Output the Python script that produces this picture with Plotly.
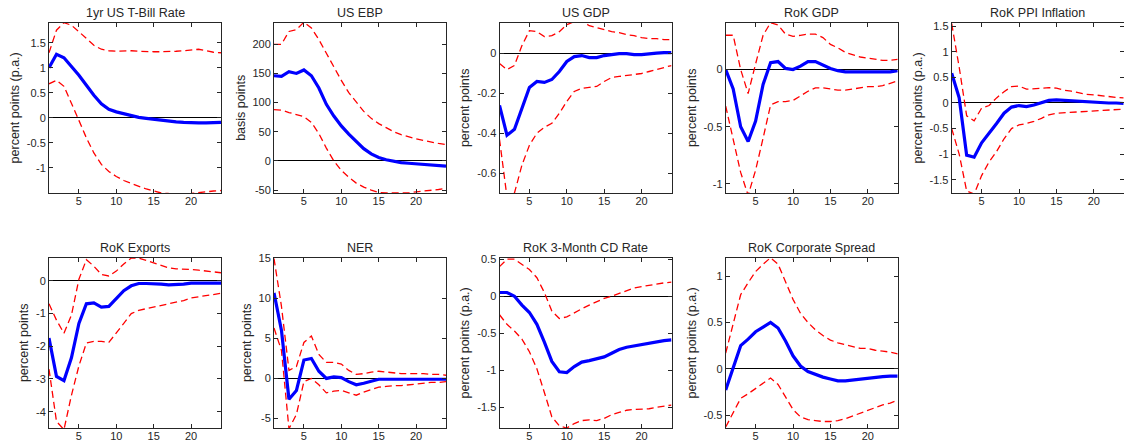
import plotly.graph_objects as go

horizon = list(range(1, 25))

titles = ["1yr US T-Bill Rate", "US EBP", "US GDP", "RoK GDP", "RoK PPI Inflation",
          "RoK Exports", "NER", "RoK 3-Month CD Rate", "RoK Corporate Spread"]
ylabels = ["percent points (p.a.)", "basis points", "percent points", "percent points",
           "percent points (p.a.)", "percent points", "percent points",
           "percent points (p.a.)", "percent points (p.a.)"]

tbill_med = [1.0, 1.27, 1.2, 1.03, 0.85, 0.65, 0.45, 0.28, 0.17, 0.12, 0.08, 0.04, 0.01, -0.01,
             -0.03, -0.05, -0.07, -0.08, -0.09, -0.1, -0.1, -0.1, -0.1, -0.09]
tbill_up = [1.3, 1.75, 1.9, 1.85, 1.72, 1.58, 1.45, 1.37, 1.34, 1.33, 1.34, 1.34, 1.33, 1.32,
            1.32, 1.32, 1.32, 1.33, 1.34, 1.36, 1.37, 1.34, 1.31, 1.3]
tbill_lo = [0.68, 0.75, 0.63, 0.3, -0.05, -0.4, -0.7, -0.93, -1.07, -1.17, -1.25, -1.31, -1.37,
            -1.42, -1.46, -1.5, -1.51, -1.52, -1.52, -1.51, -1.49, -1.47, -1.46, -1.45]

ebp_med = [146, 145, 153, 150, 156, 146, 125, 97, 77, 60, 46, 33, 21, 12, 6, 2, -1, -3, -4, -5,
           -6, -7, -8, -9]
ebp_up = [200, 200, 222, 225, 238, 228, 208, 185, 160, 138, 117, 100, 85, 73, 64, 57, 50, 45,
          41, 38, 35, 32, 30, 28]
ebp_lo = [88, 87, 83, 80, 76, 66, 47, 22, 0, -16, -28, -38, -45, -50, -54, -55, -55, -55, -55,
          -53, -52, -51, -49, -47]

usgdp_med = [-0.26, -0.41, -0.38, -0.27, -0.17, -0.14, -0.145, -0.13, -0.09, -0.04, -0.015,
             -0.01, -0.02, -0.02, -0.01, -0.005, 0.0, 0.0, -0.005, -0.005, 0.0, 0.002, 0.005, 0.005]
usgdp_up = [-0.05, -0.08, -0.06, 0.04, 0.115, 0.11, 0.085, 0.09, 0.11, 0.145, 0.16, 0.165, 0.14,
            0.13, 0.12, 0.11, 0.105, 0.095, 0.09, 0.08, 0.075, 0.075, 0.07, 0.07]
usgdp_lo = [-0.43, -0.72, -0.7, -0.56, -0.46, -0.4, -0.37, -0.35, -0.3, -0.24, -0.19, -0.175,
            -0.17, -0.165, -0.14, -0.12, -0.115, -0.11, -0.105, -0.1, -0.09, -0.08, -0.07, -0.06]

rokgdp_med = [0.0, -0.17, -0.5, -0.63, -0.45, -0.13, 0.06, 0.07, 0.01, 0.0, 0.03, 0.07, 0.07,
              0.04, 0.01, -0.01, -0.02, -0.02, -0.02, -0.02, -0.025, -0.02, -0.02, -0.01]
rokgdp_up = [0.3, 0.3, 0.0, -0.21, 0.05, 0.3, 0.41, 0.39, 0.31, 0.29, 0.3, 0.31, 0.31, 0.28,
             0.22, 0.19, 0.15, 0.13, 0.11, 0.1, 0.09, 0.08, 0.08, 0.09]
rokgdp_lo = [-0.32, -0.6, -0.9, -1.1, -0.88, -0.6, -0.31, -0.28, -0.28, -0.27, -0.23, -0.19,
             -0.16, -0.16, -0.17, -0.18, -0.18, -0.17, -0.16, -0.15, -0.15, -0.14, -0.12, -0.1]

ppi_med = [0.58, 0.1, -1.02, -1.06, -0.78, -0.6, -0.4, -0.2, -0.08, -0.05, -0.07, -0.04, 0.0,
           0.05, 0.06, 0.05, 0.04, 0.03, 0.02, 0.02, 0.01, 0.0, 0.0, -0.01]
ppi_up = [1.55, 0.7, -0.25, -0.35, -0.1, -0.05, 0.1, 0.22, 0.32, 0.33, 0.27, 0.28, 0.29, 0.3,
          0.29, 0.25, 0.23, 0.2, 0.17, 0.16, 0.14, 0.12, 0.11, 0.1]
ppi_lo = [-0.5, -1.0, -1.72, -1.78, -1.42, -1.15, -0.95, -0.7, -0.5, -0.43, -0.4, -0.36, -0.3,
          -0.23, -0.2, -0.19, -0.18, -0.17, -0.16, -0.15, -0.14, -0.13, -0.12, -0.12]

exp_med = [-1.75, -2.92, -3.05, -2.35, -1.3, -0.7, -0.67, -0.8, -0.78, -0.55, -0.3, -0.15,
           -0.08, -0.08, -0.08, -0.1, -0.12, -0.12, -0.1, -0.07, -0.06, -0.07, -0.07, -0.07]
exp_up = [-0.7, -1.2, -1.6, -1.05, 0.05, 0.65, 0.45, 0.2, 0.15, 0.3, 0.52, 0.7, 0.7, 0.62, 0.55,
          0.47, 0.4, 0.37, 0.37, 0.35, 0.33, 0.3, 0.27, 0.25]
exp_lo = [-2.7, -4.3, -4.55, -3.5, -2.6, -1.9, -1.85, -1.85, -1.88, -1.6, -1.3, -1.0, -0.9,
          -0.85, -0.8, -0.75, -0.7, -0.65, -0.6, -0.52, -0.48, -0.45, -0.42, -0.38]

ner_med = [10.7, 6.0, -2.6, -1.5, 2.3, 2.5, 0.9, 0.0, 0.2, 0.1, -0.4, -0.8, -0.6, -0.3, -0.1,
           -0.1, -0.1, -0.1, -0.1, -0.05, -0.05, -0.05, -0.05, -0.1]
ner_up = [15.0, 9.0, 1.0, 1.5, 4.5, 5.3, 3.0, 2.0, 2.0, 1.8, 1.0, 0.5, 0.6, 0.8, 0.9, 0.8, 0.7,
          0.6, 0.6, 0.6, 0.6, 0.5, 0.5, 0.4]
ner_lo = [6.3, 3.5, -6.3, -4.5, -0.4, 0.0, -0.8, -1.8, -1.6, -1.5, -1.8, -2.1, -1.7, -1.4, -1.1,
          -1.0, -0.9, -0.9, -0.8, -0.7, -0.6, -0.5, -0.5, -0.4]

cd_med = [0.05, 0.05, 0.0, -0.12, -0.22, -0.38, -0.62, -0.88, -1.02, -1.03, -0.95, -0.89, -0.87,
          -0.85, -0.82, -0.77, -0.72, -0.69, -0.67, -0.65, -0.63, -0.62, -0.6, -0.59]
cd_up = [0.4, 0.5, 0.5, 0.43, 0.36, 0.25, 0.05, -0.2, -0.3, -0.28, -0.22, -0.17, -0.12, -0.07,
         -0.03, 0.0, 0.04, 0.08, 0.11, 0.13, 0.15, 0.17, 0.18, 0.19]
cd_lo = [-0.25, -0.38, -0.47, -0.58, -0.75, -0.98, -1.3, -1.63, -1.75, -1.78, -1.72, -1.68,
         -1.67, -1.68, -1.65, -1.6, -1.57, -1.54, -1.53, -1.53, -1.52, -1.5, -1.49, -1.47]

cs_med = [-0.23, 0.0, 0.25, 0.32, 0.4, 0.45, 0.5, 0.44, 0.3, 0.14, 0.03, -0.03, -0.06, -0.09,
          -0.11, -0.13, -0.13, -0.12, -0.11, -0.1, -0.09, -0.085, -0.08, -0.08]
cs_up = [0.17, 0.5, 0.8, 0.93, 1.05, 1.13, 1.2, 1.13, 0.93, 0.75, 0.6, 0.5, 0.42, 0.36, 0.31,
         0.28, 0.26, 0.24, 0.22, 0.22, 0.2, 0.19, 0.18, 0.16]
cs_lo = [-0.63, -0.48, -0.32, -0.27, -0.21, -0.15, -0.1, -0.17, -0.3, -0.44, -0.52, -0.55,
         -0.56, -0.57, -0.57, -0.56, -0.54, -0.51, -0.48, -0.45, -0.42, -0.39, -0.37, -0.34]

medians = [tbill_med, ebp_med, usgdp_med, rokgdp_med, ppi_med, exp_med, ner_med, cd_med, cs_med]
uppers = [tbill_up, ebp_up, usgdp_up, rokgdp_up, ppi_up, exp_up, ner_up, cd_up, cs_up]
lowers = [tbill_lo, ebp_lo, usgdp_lo, rokgdp_lo, ppi_lo, exp_lo, ner_lo, cd_lo, cs_lo]

yranges = [[-1.5, 1.9], [-55, 237], [-0.70, 0.155], [-1.08, 0.41], [-1.76, 1.57],
           [-4.5, 0.71], [-6.2, 15.1], [-1.78, 0.52], [-0.64, 1.2]]
yticks = [[-1, -0.5, 0, 0.5, 1, 1.5], [-50, 0, 50, 100, 150, 200], [-0.6, -0.4, -0.2, 0],
          [-1, -0.5, 0], [-1.5, -1, -0.5, 0, 0.5, 1, 1.5], [-4, -3, -2, -1, 0],
          [-5, 0, 5, 10, 15], [-1.5, -1, -0.5, 0, 0.5], [-0.5, 0, 0.5, 1]]
xticks = [5, 10, 15, 20]

W, H = 1124, 442
col_left = [49, 274, 499.5, 725.7, 951.7]
panel_w = 172
row_top = [22.7, 257.7]
panel_h = 170.3

TXT = "#262626"
FONT = "Liberation Sans, Arial, Helvetica, sans-serif"

fig = go.Figure()
annotations = []
for i in range(9):
    r, c = divmod(i, 5)
    n = i + 1
    xa = "x" if n == 1 else f"x{n}"
    ya = "y" if n == 1 else f"y{n}"
    x0 = col_left[c] / W
    x1 = (col_left[c] + panel_w) / W
    y1 = 1 - row_top[r] / H
    y0 = 1 - (row_top[r] + panel_h) / H

    for band in (uppers[i], lowers[i]):
        fig.add_trace(go.Scatter(x=horizon, y=band, mode="lines", xaxis=xa, yaxis=ya,
                                 line=dict(color="#ff0000", width=1.3, dash="7px,4px"),
                                 showlegend=False, hoverinfo="skip"))
    fig.add_trace(go.Scatter(x=horizon, y=medians[i], mode="lines", xaxis=xa, yaxis=ya,
                             line=dict(color="#0000ff", width=3.2), showlegend=False))

    axkw = dict(showgrid=False, showline=True, linecolor=TXT, linewidth=1, mirror="ticks",
                ticks="inside", ticklen=4, tickcolor=TXT, tickwidth=1, automargin=False,
                tickfont=dict(family=FONT, size=11, color=TXT))
    fig.layout[f"xaxis{n if n > 1 else ''}"] = dict(
        domain=[x0, x1], anchor=ya, range=[1, 24], tickvals=xticks,
        ticktext=[f"{v:g}" for v in xticks], zeroline=False, ticklabelstandoff=-2, **axkw)
    fig.layout[f"yaxis{n if n > 1 else ''}"] = dict(
        domain=[y0, y1], anchor=xa, range=yranges[i], tickvals=yticks[i],
        ticktext=[f"{v:g}" for v in yticks[i]], zeroline=True, zerolinecolor="#000000",
        zerolinewidth=1, title=dict(text=ylabels[i], font=dict(family=FONT, size=12.5, color=TXT),
                                    standoff=4), **axkw)
    annotations.append(dict(text=titles[i], x=(x0 + x1) / 2, y=y1, xref="paper", yref="paper",
                            xanchor="center", yanchor="bottom", yshift=1, showarrow=False,
                            font=dict(family=FONT, size=12.5, color=TXT)))

fig.update_layout(width=W, height=H, margin=dict(l=0, r=0, t=0, b=0),
                  plot_bgcolor="white", paper_bgcolor="white", annotations=annotations)
fig.write_html("out.html", config={"displayModeBar": False},
               post_script="document.body.style.margin='0';document.body.style.overflow='hidden';")
